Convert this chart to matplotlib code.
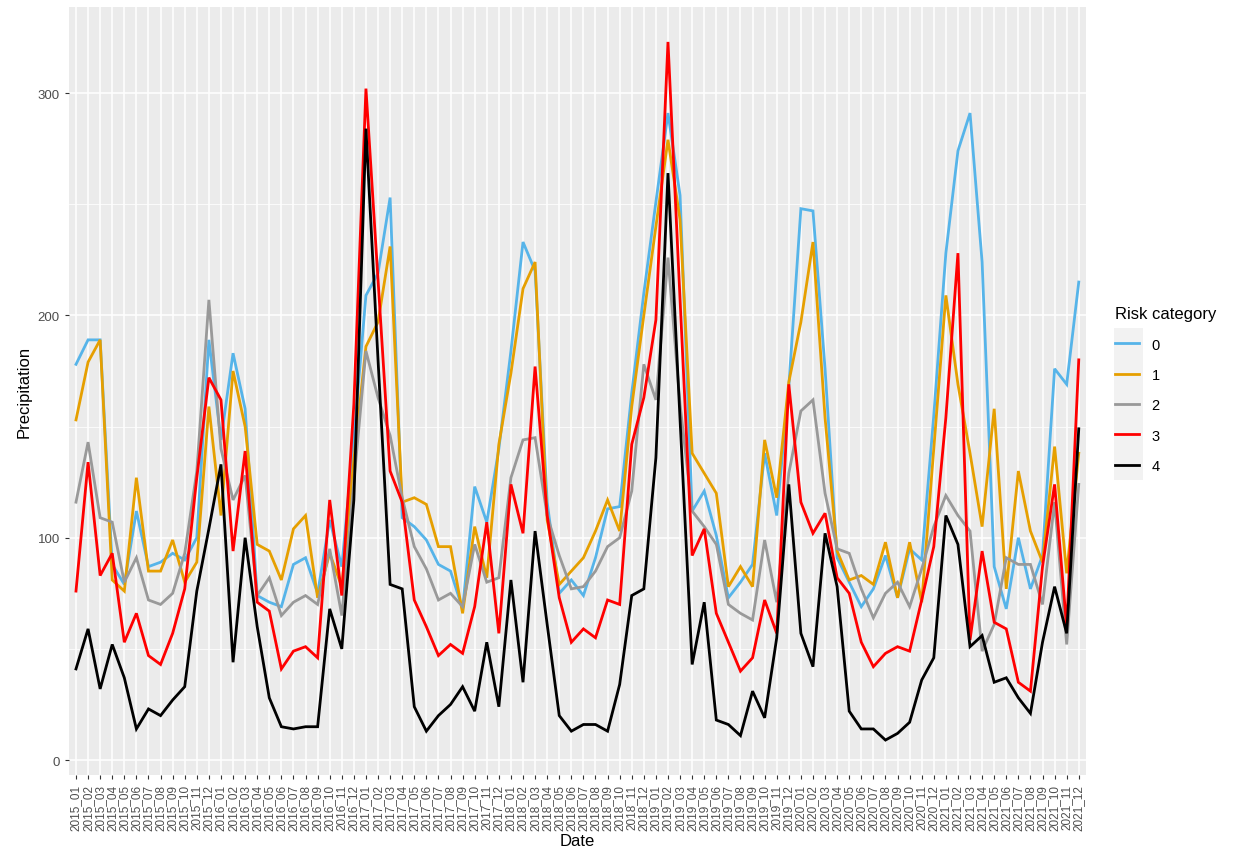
import matplotlib
matplotlib.use("Agg")
import matplotlib.pyplot as plt
from matplotlib.patches import Rectangle

plt.rcParams['font.family'] = ['Liberation Sans', 'DejaVu Sans']

####### data #######
years = [2015, 2016, 2017, 2018, 2019, 2020, 2021]
months = ["01", "02", "03", "04", "05", "06", "07", "08", "09", "10", "11", "12"]
dates = [str(y) + "_" + m for y in years for m in months]

risk_0 = [178, 189, 189, 88, 79, 112, 87, 89, 93, 90, 100, 189,
          144, 183, 158, 74, 71, 69, 88, 91, 75, 108, 87, 145,
          209, 219, 253, 109, 105, 99, 88, 85, 68, 123, 107, 140,
          184, 233, 220, 116, 75, 81, 74, 91, 113, 114, 165, 210,
          251, 291, 254, 112, 121, 101, 73, 80, 88, 138, 110, 168,
          248, 247, 176, 91, 80, 69, 77, 92, 73, 95, 90, 155,
          228, 274, 291, 224, 87, 68, 100, 77, 92, 176, 169, 215]

risk_1 = [153, 179, 189, 81, 76, 127, 85, 85, 99, 80, 89, 159,
          110, 175, 150, 97, 94, 81, 104, 110, 73, 93, 78, 135,
          186, 197, 231, 116, 118, 115, 96, 96, 66, 105, 82, 142,
          174, 212, 224, 108, 79, 85, 91, 103, 117, 103, 159, 200,
          240, 279, 243, 138, 129, 120, 78, 87, 78, 144, 118, 170,
          197, 233, 154, 94, 81, 83, 79, 98, 73, 98, 71, 140,
          209, 169, 138, 105, 158, 77, 130, 103, 89, 141, 84, 138]

risk_2 = [116, 143, 109, 107, 80, 91, 72, 70, 75, 93, 130, 207,
          140, 117, 128, 74, 82, 65, 71, 74, 70, 95, 65, 125,
          184, 163, 146, 118, 96, 86, 72, 75, 69, 97, 80, 82,
          127, 144, 145, 110, 92, 77, 78, 85, 96, 100, 121, 178,
          162, 226, 160, 112, 105, 97, 70, 66, 63, 99, 71, 129,
          157, 162, 120, 95, 93, 77, 64, 75, 80, 69, 86, 105,
          119, 110, 103, 49, 61, 91, 88, 88, 70, 116, 52, 124]

risk_3 = [76, 134, 83, 93, 53, 66, 47, 43, 57, 77, 127, 172,
          162, 94, 139, 71, 67, 41, 49, 51, 46, 117, 74, 160,
          302, 216, 130, 116, 72, 60, 47, 52, 48, 69, 107, 57,
          124, 102, 177, 110, 73, 53, 59, 55, 72, 70, 142, 163,
          198, 323, 207, 92, 104, 66, 53, 40, 46, 72, 57, 169,
          116, 102, 111, 82, 75, 53, 42, 48, 51, 49, 72, 96,
          154, 228, 54, 94, 62, 59, 35, 31, 87, 124, 60, 180]

risk_4 = [41, 59, 32, 52, 37, 14, 23, 20, 27, 33, 76, 104,
          133, 44, 100, 60, 28, 15, 14, 15, 15, 68, 50, 117,
          284, 180, 79, 77, 24, 13, 20, 25, 33, 22, 53, 24,
          81, 35, 103, 61, 20, 13, 16, 16, 13, 34, 74, 77,
          136, 264, 153, 43, 71, 18, 16, 11, 31, 19, 55, 124,
          57, 42, 102, 78, 22, 14, 14, 9, 12, 17, 36, 46,
          110, 97, 51, 56, 35, 37, 28, 21, 53, 78, 57, 149]

categories = ["0", "1", "2", "3", "4"]
series = [risk_0, risk_1, risk_2, risk_3, risk_4]
colors = ["#56B4E9", "#E69F00", "#999999", "#FF0000", "#000000"]


####### figure #######
fig = plt.figure(figsize=(12.43, 8.62), dpi=100)
ax = fig.add_axes([0.0553, 0.0998, 0.8184, 0.8909])
ax.set_facecolor("#EBEBEB")

x = list(range(len(dates)))
for vals, col, lab in zip(series, colors, categories):
    ax.plot(x, vals, color=col, lw=2.0, label=lab, solid_joinstyle='miter', zorder=3)

ax.set_xlim(-0.6, len(dates) - 0.4)
all_vals = [v for s in series for v in s]
rng = max(all_vals) - min(all_vals)
ax.set_ylim(min(all_vals) - 0.05 * rng, max(all_vals) + 0.05 * rng)

ax.set_xticks(x)
ax.set_xticklabels(dates, rotation=90, fontsize=8.5, color="#4D4D4D")
ax.set_yticks([0, 100, 200, 300])
ax.set_yticks([50, 150, 250], minor=True)
ax.tick_params(axis='y', labelsize=9.5, labelcolor="#4D4D4D")
ax.tick_params(axis='both', which='major', color="#333333", length=3, width=0.8)
ax.tick_params(axis='y', which='minor', length=0)

ax.grid(which='major', color='white', lw=1.1, zorder=0)
ax.grid(which='minor', axis='y', color='white', lw=0.55, zorder=0)
ax.set_axisbelow(True)
for s in ax.spines.values():
    s.set_visible(False)

ax.set_xlabel("Date", fontsize=12, labelpad=2)
ax.set_ylabel("Precipitation", fontsize=12, labelpad=4)

####### legend #######
fig.patches.append(Rectangle((1114 / 1243, 1 - 481 / 862), 29 / 1243, 152 / 862,
                             transform=fig.transFigure, facecolor="#F2F2F2",
                             edgecolor='none', zorder=0))
leg = fig.legend(loc='upper left', bbox_to_anchor=(1105 / 1243, 1 - 297 / 862),
                 frameon=False, fontsize=10.5, title="Risk category",
                 title_fontsize=12, handlelength=1.6, handleheight=0.7,
                 labelspacing=1.12, handletextpad=0.9, borderpad=0.2)
leg._legend_box.align = "left"

fig.savefig("out.png", dpi=100)
